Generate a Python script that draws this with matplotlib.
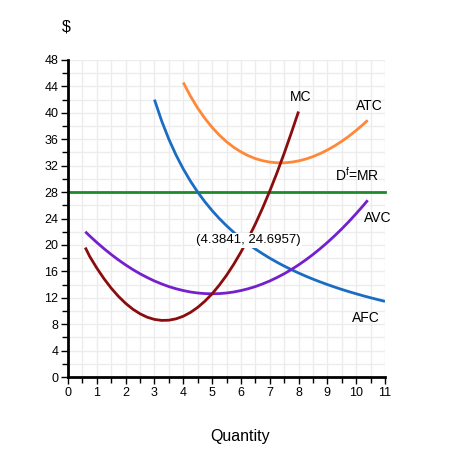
import matplotlib
matplotlib.use("Agg")
import matplotlib.pyplot as plt
from matplotlib.ticker import MultipleLocator

plt.rcParams['font.family'] = ['Liberation Sans', 'DejaVu Sans']

# Data
mc_q = [0.6, 0.75, 1.0, 1.25, 1.5, 1.75, 2.0, 2.25, 2.5, 2.75, 3.0, 3.25, 3.5, 3.75, 4.0,
        4.25, 4.5, 4.75, 5.0, 5.25, 5.5, 5.75, 6.0, 6.25, 6.5, 6.75, 7.0, 7.25, 7.5, 7.75, 8.0]
mc_v = [19.6, 18.28, 16.49, 14.88, 13.45, 12.21, 11.15, 10.27, 9.57, 9.05, 8.72, 8.57, 8.60, 8.81, 9.20,
        9.78, 10.54, 11.48, 12.60, 13.91, 15.39, 17.06, 18.91, 20.95, 23.16, 25.56, 28.14, 30.90, 33.85, 36.97, 40.2]

avc_q = [0.6, 0.75, 1.0, 1.25, 1.5, 1.75, 2.0, 2.25, 2.5, 2.75, 3.0, 3.25, 3.5, 3.75, 4.0,
         4.25, 4.5, 4.75, 5.0, 5.25, 5.5, 5.75, 6.0, 6.25, 6.5, 6.75, 7.0, 7.25, 7.5, 7.75, 8.0,
         8.25, 8.5, 8.75, 9.0, 9.25, 9.5, 9.75, 10.0, 10.25, 10.4]
avc_v = [22.0, 21.37, 20.37, 19.43, 18.55, 17.73, 16.97, 16.27, 15.63, 15.06, 14.54, 14.09, 13.69, 13.36, 13.09,
         12.87, 12.72, 12.63, 12.6, 12.63, 12.72, 12.87, 13.09, 13.36, 13.69, 14.09, 14.54, 15.06, 15.63, 16.27, 16.97,
         17.73, 18.55, 19.43, 20.37, 21.37, 22.43, 23.55, 24.74, 25.98, 26.76]

afc_q = [3.0, 3.25, 3.5, 3.75, 4.0, 4.25, 4.5, 4.75, 5.0, 5.25, 5.5, 5.75, 6.0, 6.25, 6.5, 6.75,
         7.0, 7.25, 7.5, 7.75, 8.0, 8.25, 8.5, 8.75, 9.0, 9.25, 9.5, 9.75, 10.0, 10.25, 10.5, 10.75, 11.0]
afc_v = [42.0, 38.77, 36.0, 33.6, 31.5, 29.65, 28.0, 26.53, 25.2, 24.0, 22.91, 21.91, 21.0, 20.16, 19.38, 18.67,
         18.0, 17.38, 16.8, 16.26, 15.75, 15.27, 14.82, 14.4, 14.0, 13.62, 13.26, 12.92, 12.6, 12.29, 12.0, 11.72, 11.45]

atc_q = [4.0, 4.25, 4.5, 4.75, 5.0, 5.25, 5.5, 5.75, 6.0, 6.25, 6.5, 6.75, 7.0, 7.25, 7.5, 7.75,
         8.0, 8.25, 8.5, 8.75, 9.0, 9.25, 9.5, 9.75, 10.0, 10.25, 10.4]
atc_v = [44.59, 42.52, 40.72, 39.16, 37.8, 36.63, 35.63, 34.78, 34.09, 33.52, 33.07, 32.76, 32.54, 32.44, 32.43, 32.53,
         32.72, 33.0, 33.37, 33.83, 34.37, 34.99, 35.69, 36.47, 37.34, 38.27, 38.88]

price = 28
annot_text = "(4.3841, 24.6957)"

fig = plt.figure(figsize=(4.55, 4.63), dpi=100)
ax = fig.add_axes([68/455, (463-377)/463, (385-68)/455, (377-60)/463])

ax.set_xlim(0, 11)
ax.set_ylim(0, 48)
ax.xaxis.set_major_locator(MultipleLocator(1))
ax.xaxis.set_minor_locator(MultipleLocator(0.5))
ax.yaxis.set_major_locator(MultipleLocator(4))
ax.yaxis.set_minor_locator(MultipleLocator(2))
ax.grid(True, which='both', color='#ececec', linewidth=1.0, zorder=0)
ax.set_axisbelow(True)

for s in ['top', 'right']:
    ax.spines[s].set_visible(False)
for s in ['left', 'bottom']:
    ax.spines[s].set_linewidth(2)
    ax.spines[s].set_color('black')
ax.tick_params(which='major', length=5, width=1, labelsize=9, pad=2)
ax.tick_params(which='minor', length=4, width=1)

lw = 2.0
kw = dict(lw=lw, solid_joinstyle='round', solid_capstyle='butt')
ax.axhline(price, color='#1e8a2a', lw=lw, clip_on=False)
ax.plot(afc_q, afc_v, color='#1a6dc2', **kw)
ax.plot(atc_q, atc_v, color='#ff8838', **kw)
ax.plot(avc_q, avc_v, color='#7420cc', **kw)
ax.plot(mc_q, mc_v, color='#8a0c0c', **kw)

fs = 10
ax.text(8.06, 42.4, "MC", ha='center', va='center', fontsize=fs)
ax.text(10.45, 41.0, "ATC", ha='center', va='center', fontsize=fs)
ax.text(10.05, 30.6, r"D$^\mathregular{f}$=MR", ha='center', va='center', fontsize=fs)
ax.text(10.75, 24.1, "AVC", ha='center', va='center', fontsize=fs)
ax.text(10.33, 9.0, "AFC", ha='center', va='center', fontsize=fs)
ax.text(6.26, 20.7, annot_text, ha='center', va='center', fontsize=9.5, zorder=5,
        bbox=dict(facecolor='white', edgecolor='none', pad=1.0))

fig.text(66/455, 1 - 27/463, "$", ha='center', va='center', fontsize=11.5)
fig.text(240/455, 1 - 436/463, "Quantity", ha='center', va='center', fontsize=11.5)

fig.savefig("out.png", dpi=100)
